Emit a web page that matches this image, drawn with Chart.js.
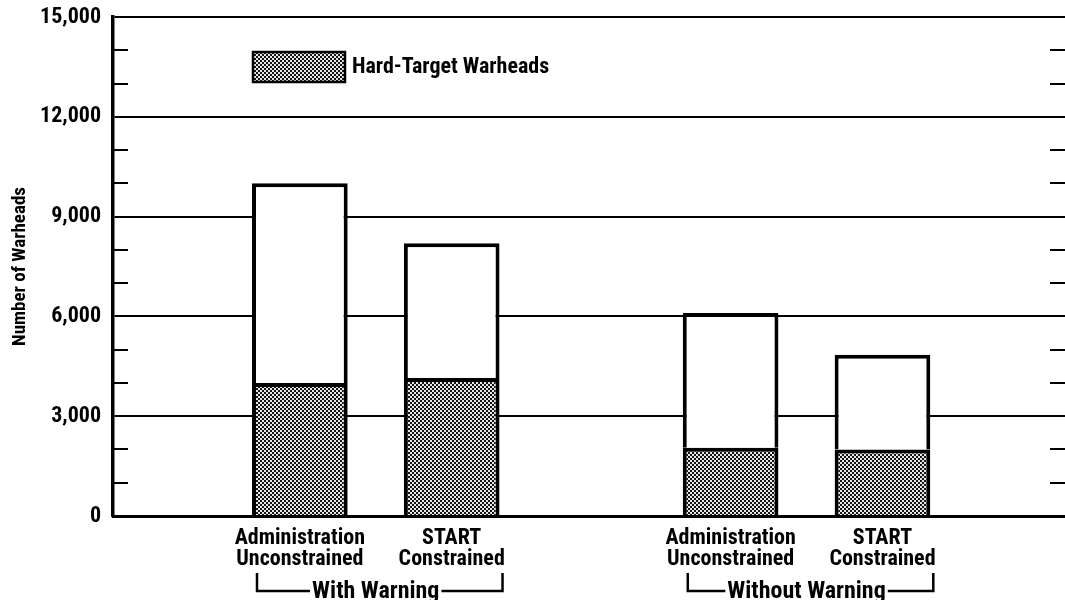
<!DOCTYPE html>
<html>
<head>
<meta charset="utf-8">
<script src="https://cdn.jsdelivr.net/npm/chart.js@4/dist/chart.umd.min.js"></script>
<style>
  html, body { margin: 0; padding: 0; background: #fff; }
  #wrap { width: 1065px; height: 600px; position: relative; }
</style>
</head>
<body>
<div id="wrap"><canvas id="warheadChart"></canvas></div>
<script>
/* =========================
   DATA
 ========================= */
const groups = ['With Warning', 'Without Warning'];
const groupPos = [1, 2];
const barLabels = [['Administration', 'Unconstrained'], ['START', 'Constrained']];

const adminTotal = [10000, 6100];
const adminHard = [4000, 2050];
const startTotal = [8200, 4850];
const startHard = [4150, 2000];

const yTicks = [0, 3000, 6000, 9000, 12000, 15000];

const FONT = '"Roboto Condensed", "Open Sans Condensed", "DejaVu Sans Condensed", sans-serif';

/* =========================
   HELPERS
 ========================= */
function makeDotPattern() {
  const c = document.createElement('canvas');
  c.width = 4; c.height = 4;
  const g = c.getContext('2d');
  g.fillStyle = '#e6e6e6';
  g.fillRect(0, 0, 4, 4);
  g.fillStyle = '#151515';
  g.fillRect(0, 0, 2, 2);
  g.fillRect(2, 2, 2, 2);
  return g.createPattern(c, 'repeat');
}

function points(vals) {
  return vals.map((v, i) => ({ x: groupPos[i], y: v }));
}

const dots = makeDotPattern();

/* =========================
   PLUGINS
 ========================= */
// short inner ticks on both sides for the 1,000 steps
const minorTicks = {
  id: 'minorTicks',
  afterDraw(chart) {
    const { ctx, chartArea } = chart;
    const y = chart.scales.y;
    ctx.save();
    ctx.strokeStyle = '#000';
    ctx.lineWidth = 2;
    y.ticks.forEach(t => {
      if (yTicks.includes(t.value)) return;
      const py = Math.round(y.getPixelForValue(t.value));
      ctx.beginPath();
      ctx.moveTo(chartArea.left, py);
      ctx.lineTo(chartArea.left + 15, py);
      ctx.moveTo(chartArea.right - 15, py);
      ctx.lineTo(chartArea.right, py);
      ctx.stroke();
    });
    ctx.restore();
  }
};

// legend box inside the plot, bar labels, group brackets
const annotations = {
  id: 'annotations',
  afterDraw(chart) {
    const { ctx, chartArea } = chart;
    const ds = chart.data.datasets[0];

    ctx.save();
    // legend
    const lx = chartArea.left + 140, ly = chartArea.top + 35;
    ctx.fillStyle = ds.backgroundColor;
    ctx.fillRect(lx, ly, 92, 30);
    ctx.strokeStyle = '#000';
    ctx.lineWidth = 2.5;
    ctx.strokeRect(lx, ly, 92, 30);
    ctx.fillStyle = '#000';
    ctx.font = 'bold 22px ' + FONT;
    ctx.textAlign = 'left';
    ctx.textBaseline = 'middle';
    ctx.fillText(ds.label, lx + 99, ly + 15);

    // labels under bars
    const adminMeta = chart.getDatasetMeta(0);
    const startMeta = chart.getDatasetMeta(2);
    ctx.font = 'bold 22px ' + FONT;
    ctx.textAlign = 'center';
    groups.forEach((g, i) => {
      [adminMeta, startMeta].forEach((m, k) => {
        const el = m.data[i];
        barLabels[k].forEach((line, j) => {
          ctx.fillText(line, el.x, chartArea.bottom + 22 + j * 21);
        });
      });
    });

    // group names with brackets
    const xs = chart.scales.x;
    ctx.font = 'bold 24px ' + FONT;
    const midY = chartArea.bottom + 75;
    ctx.lineWidth = 2.5;
    groups.forEach((g, i) => {
      const a = adminMeta.data[i];
      const s = startMeta.data[i];
      const left = a.x - a.width / 2 + 5;
      const right = s.x + s.width / 2 + 3;
      const cx = xs.getPixelForValue(groupPos[i]);
      ctx.fillText(g, cx, midY + 1);
      const half = ctx.measureText(g).width / 2 + 2;
      ctx.beginPath();
      ctx.moveTo(left, chartArea.bottom + 57);
      ctx.lineTo(left, midY);
      ctx.lineTo(cx - half, midY);
      ctx.moveTo(cx + half, midY);
      ctx.lineTo(right, midY);
      ctx.lineTo(right, chartArea.bottom + 57);
      ctx.stroke();
    });
    ctx.restore();
  }
};

/* =========================
   CHART
 ========================= */
const barStyle = {
  borderColor: '#000',
  borderWidth: 4,
  categoryPercentage: 0.705,
  barPercentage: 0.63
};

new Chart(document.getElementById('warheadChart'), {
  type: 'bar',
  data: {
    datasets: [
      { label: 'Hard-Target Warheads', data: points(adminHard), stack: 'admin', backgroundColor: dots, ...barStyle },
      { label: 'Other', data: points(adminTotal.map((t, i) => t - adminHard[i])), stack: 'admin', backgroundColor: '#fff', ...barStyle },
      { label: 'Hard-Target Warheads', data: points(startHard), stack: 'start', backgroundColor: dots, ...barStyle },
      { label: 'Other', data: points(startTotal.map((t, i) => t - startHard[i])), stack: 'start', backgroundColor: '#fff', ...barStyle }
    ]
  },
  options: {
    responsive: true,
    maintainAspectRatio: false,
    animation: false,
    layout: { padding: { top: 17, right: 0, left: 0, bottom: 84 } },
    plugins: {
      legend: { display: false },
      tooltip: { enabled: false }
    },
    scales: {
      x: {
        type: 'linear',
        stacked: true,
        offset: false,
        min: 0.39,
        max: 2.6,
        grid: { display: false, drawTicks: false },
        border: { display: true, color: '#000', width: 3 },
        ticks: { display: false, stepSize: 1, includeBounds: false }
      },
      y: {
        stacked: true,
        min: 0,
        max: 15000,
        afterFit: s => {
          s.width = 113;
          s.paddingTop = 0;
          s.paddingBottom = 0;
        },
        grid: {
          drawTicks: false,
          lineWidth: 2,
          color: c => (yTicks.includes(c.tick.value) ? '#000' : 'rgba(0,0,0,0)')
        },
        border: { display: true, color: '#000', width: 3.5 },
        ticks: {
          stepSize: 1000,
          padding: 12,
          color: '#000',
          font: { family: FONT, size: 22, weight: 'bold' },
          callback: v => (yTicks.includes(v) ? v.toLocaleString('en-US') : '')
        },
        title: {
          display: true,
          text: 'Number of Warheads',
          color: '#000',
          padding: { top: 9, bottom: 0 },
          font: { family: FONT, size: 19, weight: 'bold' }
        }
      }
    }
  },
  plugins: [minorTicks, annotations]
});
</script>
</body>
</html>
